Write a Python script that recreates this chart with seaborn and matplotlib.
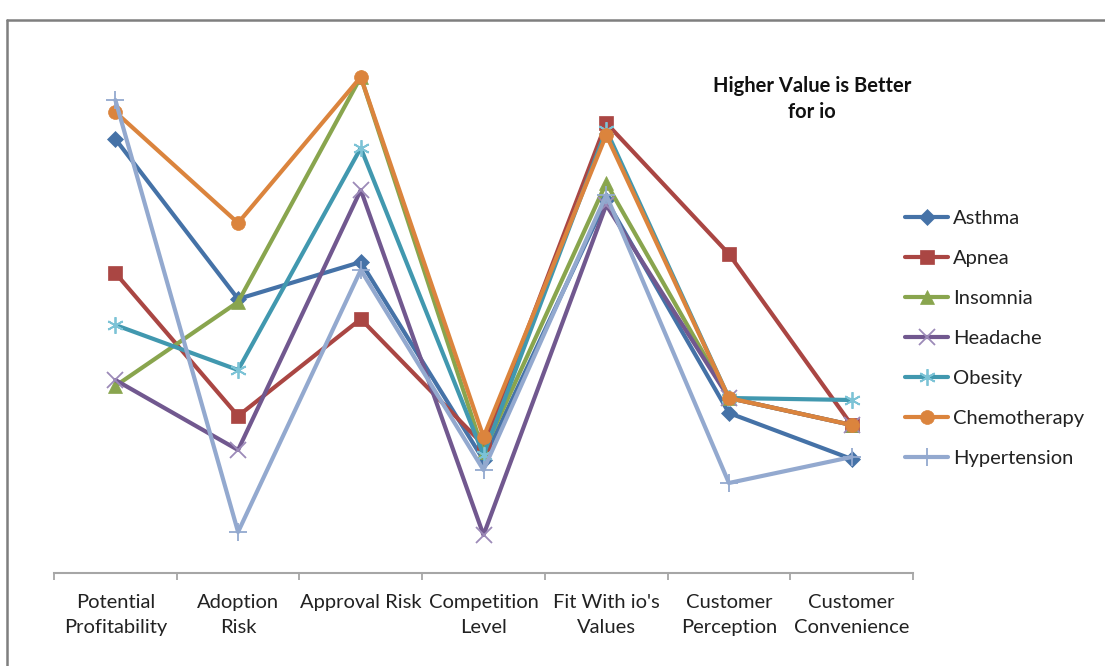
import numpy as np
import pandas as pd
import matplotlib
matplotlib.use("Agg")
import matplotlib.pyplot as plt
from matplotlib.lines import Line2D
import seaborn as sns

criteria = ["Potential\nProfitability", "Adoption\nRisk", "Approval Risk",
            "Competition\nLevel", "Fit With io's\nValues", "Customer\nPerception",
            "Customer\nConvenience"]

asthma = [4.34, 2.74, 3.11, 1.13, 3.73, 1.60, 1.14]
apnea = [3.00, 1.57, 2.54, 1.28, 4.50, 3.19, 1.48]
insomnia = [1.87, 2.71, 4.96, 1.21, 3.90, 1.75, 1.48]
headache = [1.93, 1.23, 3.83, 0.38, 3.68, 1.75, 1.48]
obesity = [2.48, 2.03, 4.25, 1.18, 4.43, 1.75, 1.73]
chemotherapy = [4.61, 3.50, 4.96, 1.36, 4.38, 1.75, 1.48]
hypertension = [4.73, 0.41, 3.03, 1.03, 3.78, 0.90, 1.16]

conditions = ["Asthma", "Apnea", "Insomnia", "Headache", "Obesity",
              "Chemotherapy", "Hypertension"]
series = [asthma, apnea, insomnia, headache, obesity, chemotherapy, hypertension]

colors = ["#4572A7", "#AA4643", "#89A54E", "#71588F", "#4198AF", "#DB843D", "#93A9CF"]
marker_edge = ["#4572A7", "#AA4643", "#89A54E", "#9C8AB8", "#7CC3D6", "#DB843D", "#93A9CF"]
markers = ["D", "s", "^", "x", (6, 2, 0), "o", "+"]
marker_sizes = [8, 10, 10, 11, 12, 10, 13]

sns.set_theme(style="white")
plt.rcParams["font.family"] = ["Lato", "DejaVu Sans"]
FS = 14.5

df = pd.DataFrame({
    "pos": np.tile(np.arange(len(criteria)), len(conditions)),
    "score": np.concatenate(series),
    "condition": np.repeat(conditions, len(criteria)),
})

fig = plt.figure(figsize=(11.05, 6.66), dpi=100)
ax = fig.add_axes([54 / 1105, 93 / 666, 859 / 1105, 533 / 666])

for i, name in enumerate(conditions):
    sub = df[df["condition"] == name]
    filled = name not in ("Headache", "Obesity", "Hypertension")
    sns.lineplot(data=sub, x="pos", y="score", ax=ax, color=colors[i],
                 linewidth=3.0, marker=markers[i], markersize=marker_sizes[i],
                 markeredgecolor=marker_edge[i] if not filled else colors[i],
                 markerfacecolor=colors[i],
                 markeredgewidth=1.3 if not filled else 0.5,
                 label=name, sort=False, zorder=3 + i)

ax.set_xlim(-0.5, len(criteria) - 0.5)
ax.set_ylim(0, 5.33)
ax.set_xlabel("")
ax.set_ylabel("")
ax.set_yticks([])

ax.set_xticks(np.arange(len(criteria)))
ax.set_xticklabels(criteria, fontsize=FS, color="#222222", linespacing=1.6)
ax.set_xticks(np.arange(len(criteria) + 1) - 0.5, minor=True)
ax.tick_params(axis="x", which="major", length=0, pad=15)
ax.tick_params(axis="x", which="minor", length=5, width=1.3, color="#A6A6A6",
               direction="out", bottom=True)

for side in ("top", "right", "left"):
    ax.spines[side].set_visible(False)
ax.spines["bottom"].set_color("#A6A6A6")
ax.spines["bottom"].set_linewidth(1.5)

leg = ax.legend(loc="upper left", bbox_to_anchor=(905 / 1105, 1 - 210 / 666),
                bbox_transform=fig.transFigure, frameon=False, fontsize=FS,
                handlelength=2.15, handletextpad=0.25, labelspacing=1.14,
                borderpad=0, borderaxespad=0)
for h in leg.legend_handles:
    h.set_linewidth(3.0)
for t in leg.get_texts():
    t.set_color("#222222")

fig.text(812 / 1105, 1 - 99 / 666, "Higher Value is Better\nfor io",
         ha="center", va="center", fontsize=FS, fontweight="bold",
         linespacing=1.4, color="#111111")

# outer chart frame (top and left edges)
fig.add_artist(Line2D([7 / 1105, 1.0], [1 - 20 / 666, 1 - 20 / 666],
                      transform=fig.transFigure, color="#7F7F7F", linewidth=1.8))
fig.add_artist(Line2D([7 / 1105, 7 / 1105], [0.0, 1 - 20 / 666],
                      transform=fig.transFigure, color="#7F7F7F", linewidth=1.8))

fig.savefig("out.png", dpi=100)
